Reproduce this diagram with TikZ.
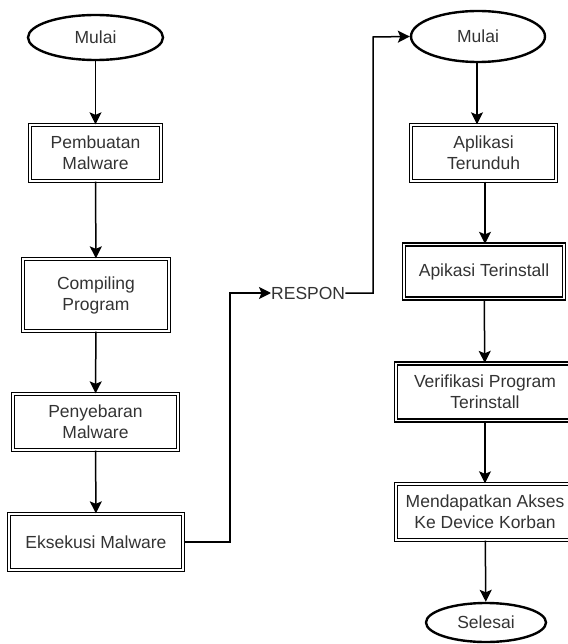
\documentclass[tikz,border=0pt]{standalone}
\usepackage{fontspec}
\setmainfont{Liberation Sans}
\usetikzlibrary{arrows.meta,shapes.geometric}
\definecolor{txt}{HTML}{333333}
\begin{document}
\begin{tikzpicture}[x=1pt,y=-1pt,
  every node/.style={font=\fontsize{17.5}{21}\selectfont, text=txt, align=center},
  term/.style={ellipse, draw=black, line width=2.4pt, inner sep=0pt},
  procbox/.style={rectangle, draw=black, double=white, double distance=1.8pt, line width=1.3pt, inner sep=0pt},
  conn/.style={draw=black, line width=1.5pt},
  arr/.style={conn, -{Stealth[length=12pt,width=12pt,inset=2.5pt]}}
]
\useasboundingbox (0,0) rectangle (567,644);
% left column
\node[term, minimum width=135pt, minimum height=45pt] (m1) at (95.5,37.5) {Mulai};
\node[procbox, minimum width=131pt, minimum height=56pt] (b1) at (95.5,153) {Pembuatan\\Malware};
\node[procbox, minimum width=146pt, minimum height=72pt] (b2) at (96,295) {Compiling\\Program};
\node[procbox, minimum width=165pt, minimum height=56pt] (b3) at (95.5,422) {Penyebaran\\Malware};
\node[procbox, minimum width=174pt, minimum height=56pt] (b4) at (96,542) {Eksekusi Malware};
% middle label
\node[inner sep=0pt, anchor=west] (resp) at (271,293) {RESPON};
\coordinate (c1a) at (230,293);
\coordinate (c2a) at (373,37);
% right column
\node[term, minimum width=134pt, minimum height=51pt] (m2) at (478,36.5) {Mulai};
\node[procbox, minimum width=145pt, minimum height=56pt] (r1) at (483.5,153) {Aplikasi\\Terunduh};
\node[procbox, minimum width=160pt, minimum height=54pt] (r2) at (484,271.5) {Apikasi Terinstall};
\node[procbox, minimum width=178pt, minimum height=57pt] (r3) at (485,392) {Verifikasi Program\\Terinstall};
\node[procbox, minimum width=178pt, minimum height=56pt] (r4) at (485,512) {Mendapatkan Akses\\Ke Device Korban};
\node[term, minimum width=120pt, minimum height=39pt] (sel) at (486,622.5) {Selesai};
% connectors
\draw[arr] (m1) -- (b1);
\draw[arr] (b1) -- (b2);
\draw[arr] (b2) -- (b3);
\draw[arr] (b3) -- (b4);
\draw[arr] (b4.east) -| (c1a) -- (resp.west);
\draw[arr] (resp.east) -| (c2a) -- (m2.west);
\draw[arr] (m2.south -| 477,0) -- (r1.north -| 477,0);
\draw[arr] (r1.south -| 485,0) -- (r2.north -| 485,0);
\draw[arr] (r2) -- (r3);
\draw[arr] (r3) -- (r4);
\draw[arr] (r4) -- (sel);
\end{tikzpicture}
\end{document}
